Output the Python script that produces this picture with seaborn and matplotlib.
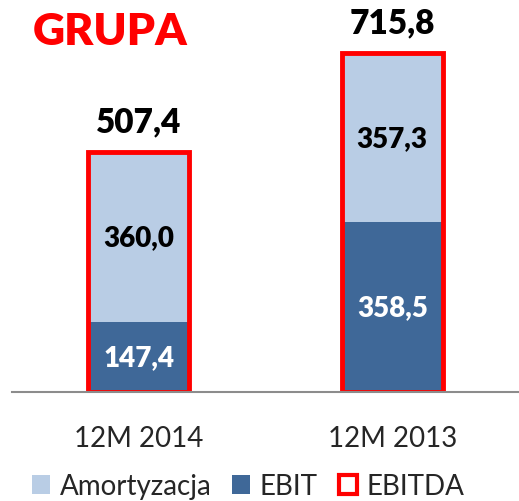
import pandas as pd
import seaborn as sns
import matplotlib.pyplot as plt
from matplotlib.patches import Patch

# data
periods = ['12M 2014', '12M 2013']
ebit = [147.4, 358.5]
amortyzacja = [360.0, 357.3]
ebitda = [507.4, 715.8]

light_blue = '#B9CDE5'
dark_blue = '#3F6898'
red = '#FF0000'

df = pd.DataFrame({'okres': periods, 'EBIT': ebit,
                   'Amortyzacja': amortyzacja, 'EBITDA': ebitda})

sns.set_style('white')
plt.rcParams['font.family'] = ['Lato', 'DejaVu Sans']

fig = plt.figure(figsize=(5.19, 5.02), dpi=100)
ax = fig.add_axes([12 / 519, 109 / 502, 1 - 12 / 519, 1 - 109 / 502])

# stacked bars: total in light blue, EBIT over it, then red EBITDA outline
sns.barplot(data=df, x='okres', y='EBITDA', color=light_blue, width=0.4,
            saturation=1, ax=ax, linewidth=0)
sns.barplot(data=df, x='okres', y='EBIT', color=dark_blue, width=0.4,
            saturation=1, ax=ax, linewidth=0)
sns.barplot(data=df, x='okres', y='EBITDA', color=red, fill=False, width=0.4,
            ax=ax, linewidth=3.5)

for i in range(len(periods)):
    ax.text(i, ebit[i] / 2, f'{ebit[i]:.1f}'.replace('.', ','),
            ha='center', va='center', color='white', fontsize=20, fontweight='heavy')
    ax.text(i, ebit[i] + amortyzacja[i] / 2, f'{amortyzacja[i]:.1f}'.replace('.', ','),
            ha='center', va='center', color='black', fontsize=20, fontweight='heavy')
    ax.annotate(f'{ebitda[i]:.1f}'.replace('.', ','), (i, ebitda[i]),
                xytext=(0, 15), textcoords='offset points',
                ha='center', va='baseline', color='black', fontsize=24, fontweight='heavy')

ax.set_xlim(-0.5, 1.5)
ax.set_ylim(0, 831)
ax.set_xlabel('')
ax.set_ylabel('')
ax.set_yticks([])
for s in ['left', 'top', 'right']:
    ax.spines[s].set_visible(False)
ax.spines['bottom'].set_color('#8C8C8C')
ax.spines['bottom'].set_linewidth(1.5)
ax.set_xticks([-0.5, 0.5, 1.5], minor=True)
ax.tick_params(axis='x', which='minor', length=8, width=1.5, color='#8C8C8C', direction='out')
ax.tick_params(axis='x', which='major', length=0, pad=24, labelsize=20)

fig.text(33 / 519, 1 - 45 / 502, 'GRUPA', color=red, fontsize=32,
         fontweight='heavy', va='baseline', ha='left')

handles = [Patch(facecolor=light_blue, edgecolor='none'),
           Patch(facecolor=dark_blue, edgecolor='none'),
           Patch(facecolor='white', edgecolor=red, linewidth=3)]
fig.legend(handles, ['Amortyzacja', 'EBIT', 'EBITDA'], loc='center',
           bbox_to_anchor=(248 / 519, 1 - 487 / 502), ncol=3, frameon=False,
           fontsize=20, handlelength=0.65, handleheight=0.65, handletextpad=0.35,
           columnspacing=0.75, borderpad=0)

fig.savefig('out.png', dpi=100)
